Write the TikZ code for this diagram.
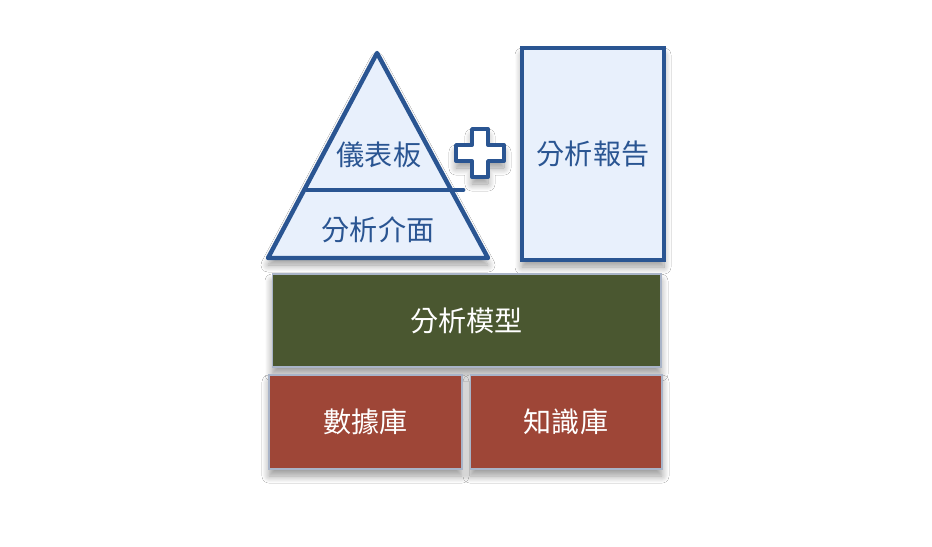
\documentclass[tikz,border=0pt]{standalone}
\usepackage{fontspec}
\newfontfamily\cjk{Noto Sans CJK TC}
\usetikzlibrary{shadows.blur}
\definecolor{inkblue}{HTML}{2A5592}
\definecolor{paleblue}{HTML}{E8F0FC}
\definecolor{olive}{HTML}{4A5730}
\definecolor{brick}{HTML}{9E4637}
\definecolor{edgegray}{HTML}{A9B4C8}
\begin{document}
\begin{tikzpicture}[x=0.02cm,y=-0.02cm]
\tikzstyle{every node}+=[inner sep=0pt,font=\cjk\fontsize{16}{16}\selectfont]
\tikzstyle{soft}=[blur shadow={shadow xshift=0pt,shadow yshift=-4pt,shadow blur radius=4pt,shadow blur steps=10,shadow opacity=40}]
\tikzstyle{layer}=[draw=edgegray,line width=0.6pt,text=white,soft]
\useasboundingbox [fill=white] (0,0) rectangle (932,547);
% top row
\draw [inkblue,fill=paleblue,line width=2.5pt,line join=round,soft] (377,53) -- (488,258) -- (268,258) -- cycle;
\draw [inkblue,line width=2.8pt,line cap=round] (307,190) -- (463,190);
\node [text=inkblue] (dash) at (379,155) {儀表板};
\node [text=inkblue] (ui) at (378,230) {分析介面};
\draw [inkblue,fill=white,line width=2.2pt,line join=round,soft] (472,129) -- (488,129) -- (488,145) -- (504,145) -- (504,161) -- (488,161) -- (488,177) -- (472,177) -- (472,161) -- (456,161) -- (456,145) -- (472,145) -- cycle;
\node [draw=inkblue,fill=paleblue,line width=2.8pt,text=inkblue,minimum width=2.84cm,minimum height=4.24cm,soft] (report) at (593,154) {分析報告};
% middle and bottom rows
\node [layer,fill=olive,minimum width=7.78cm,minimum height=1.86cm] (model) at (466.5,320.5) {分析模型};
\node [layer,fill=brick,minimum width=3.86cm,minimum height=1.88cm] (data) at (365.5,422) {數據庫};
\node [layer,fill=brick,minimum width=3.84cm,minimum height=1.88cm] (know) at (566,422) {知識庫};
\end{tikzpicture}
\end{document}
